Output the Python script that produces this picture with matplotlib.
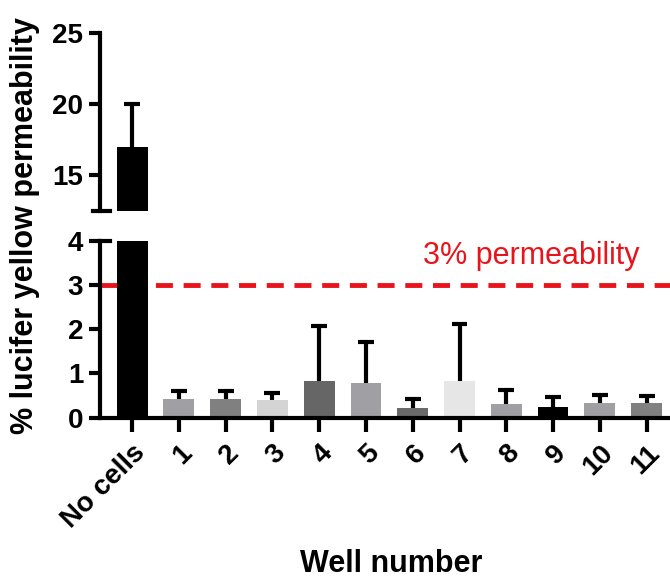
import matplotlib
matplotlib.use("Agg")
import matplotlib.pyplot as plt
import numpy as np

plt.rcParams['font.family'] = ['Liberation Sans', 'DejaVu Sans']

categories = ["No cells", "1", "2", "3", "4", "5", "6", "7", "8", "9", "10", "11"]
means = [17.0, 0.42, 0.42, 0.39, 0.83, 0.78, 0.23, 0.82, 0.31, 0.25, 0.34, 0.33]
sd = [3.0, 0.18, 0.18, 0.16, 1.24, 0.92, 0.19, 1.30, 0.32, 0.22, 0.17, 0.17]
colors = ["#000000", "#a0a0a4", "#808080", "#d4d4d4", "#666666", "#a0a0a4",
          "#6a6a6a", "#e6e6e6", "#a0a0a4", "#000000", "#a0a0a4", "#808080"]
threshold = 3.0
threshold_label = "3% permeability"

W, H = 670, 581
fig = plt.figure(figsize=(W / 100, H / 100), dpi=100)

left, right = 100 / W, 1.0
ax_lo = fig.add_axes([left, 1 - 417.7 / H, right - left, (417.7 - 240.7) / H])
ax_hi = fig.add_axes([left, 1 - 211 / H, right - left, (211 - 33.3) / H])

x = np.arange(len(categories))
m = np.array(means)
tops = m + np.array(sd)
lw = 3.0
bar_w = 0.66
cap_half = 0.17

for ax in (ax_lo, ax_hi):
    ax.bar(x, m, width=bar_w, color=colors, zorder=2)
    # upper-only error bars (SD)
    ax.vlines(x, m, tops, color="black", lw=lw, zorder=3)
    ax.hlines(tops, x - cap_half, x + cap_half, color="black", lw=lw, zorder=3)
    ax.set_xlim(-0.686, 11.5)
    for s in ("top", "right"):
        ax.spines[s].set_visible(False)
    ax.spines["left"].set_linewidth(lw)
    ax.spines["bottom"].set_linewidth(lw)
    ax.tick_params(axis="y", width=lw, length=8, pad=4)

ax_lo.set_ylim(0, 4)
ax_lo.set_yticks([0, 1, 2, 3, 4])
ax_lo.set_yticklabels(["0", "1", "2", "3", "4"], fontweight="bold", fontsize=20)
ax_lo.set_xticks(x)
ax_lo.set_xticklabels(categories, rotation=45, ha="right", rotation_mode="anchor",
                      fontweight="bold", fontsize=20)
ax_lo.tick_params(axis="x", width=lw, length=10, pad=6)

ax_lo.axhline(threshold, color="#e8141c", lw=3.5, ls=(0, (3.5, 2.2)), zorder=1)
ax_lo.text(8.53, 3.48, threshold_label, color="#e8141c", fontsize=22,
           ha="center", va="baseline")

ax_hi.set_ylim(12.5, 25)
ax_hi.set_yticks([15, 20, 25])
ax_hi.set_yticklabels(["15", "20", "25"], fontweight="bold", fontsize=20)
ax_hi.spines["bottom"].set_visible(False)
ax_hi.set_xticks([])

# break marks on the left spine
brk = dict(color="black", lw=lw, clip_on=False, transform=fig.transFigure)
fig.add_artist(plt.Line2D([92.7 / W, 110 / W], [1 - 211 / H, 1 - 211 / H], **brk))
fig.add_artist(plt.Line2D([100 / W, 110 / W], [1 - 240.7 / H, 1 - 240.7 / H], **brk))

fig.text(25 / W, 1 - 226 / H, "% lucifer yellow permeability", rotation=90,
         fontsize=22, fontweight="bold", ha="center", va="center")
fig.text(391 / W, 1 - 564 / H, "Well number", fontsize=22, fontweight="bold",
         ha="center", va="center")

fig.savefig("out.png", dpi=100)
